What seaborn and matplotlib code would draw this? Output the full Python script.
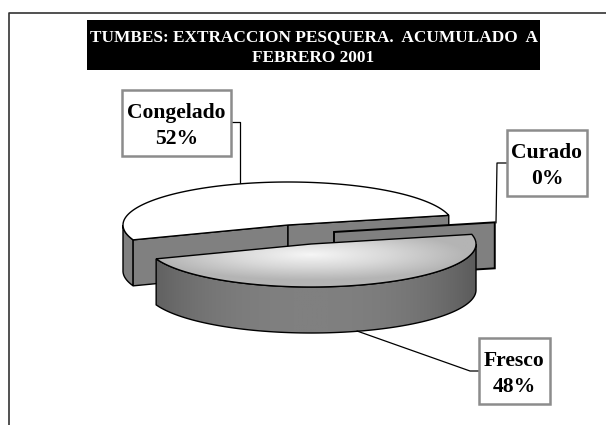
import numpy as np
import seaborn as sns
import matplotlib.pyplot as plt
from matplotlib.patches import Polygon, Rectangle

# datos del grafico
categorias = ["Congelado", "Fresco", "Curado"]
porcentajes = [52, 48, 0]
titulo = "TUMBES: EXTRACCION PESQUERA.  ACUMULADO  A\nFEBRERO 2001"

sns.set_theme(style="white")
plt.rcParams["font.family"] = ["Liberation Serif", "DejaVu Serif"]

fig = plt.figure(figsize=(6.06, 4.25), dpi=100)
ax = fig.add_axes([0, 0, 1, 1])
ax.set_xlim(0, 606)
ax.set_ylim(425, 0)
ax.axis("off")

# geometria de la torta en pixeles
rx, ry, prof = 165, 43, 46
inicio = 13
centros = {"Congelado": (288, 225), "Fresco": (311, 244), "Curado": (334, 232)}
cajas = {"Congelado": (122, 90, 231, 156), "Fresco": (479, 338, 550, 404), "Curado": (507, 130, 587, 196)}
guias = {
    "Congelado": [(231, 122), (240, 122), (240, 183)],
    "Fresco": [(357, 331), (470, 371), (479, 371)],
    "Curado": [(507, 163), (497, 163), (496, 223)],
}
gris = sns.color_palette(["#808080"])[0]
cmap_pared = sns.blend_palette(["#808080", "#5c5c5c"], as_cmap=True)
cmap_tapa = sns.blend_palette(["#f6f6f6", "#d8d8d8", "#b4b4b4"], as_cmap=True)


def arco(c, t0, t1, dy=0):
    t = np.radians(np.linspace(t0, t1, 120))
    return np.column_stack([c[0] + rx * np.cos(t), c[1] - ry * np.sin(t) + dy])


def pared_exterior(c, t0, t1):
    a, b = max(t0, 180), min(t1, 360)
    return np.vstack([arco(c, a, b), arco(c, b, a, prof)])


def pared_corte(c, t):
    p = arco(c, t, t, 0)[0]
    return [c, p, (p[0], p[1] + prof), (c[0], c[1] + prof)]


def relleno_imagen(verts, imagen, cmap, extent, z):
    im = ax.imshow(imagen, cmap=cmap, extent=extent, aspect="auto", vmin=0, vmax=1, zorder=z, interpolation="bilinear")
    im.set_clip_path(Polygon(verts, transform=ax.transData))
    ax.add_patch(Polygon(verts, closed=True, fill=False, ec="black", lw=1, zorder=z + 0.1))


angulos = np.cumsum([inicio] + [v * 3.6 for v in porcentajes])

# Congelado
c = centros["Congelado"]
t0, t1 = angulos[0], angulos[1]
ax.add_patch(Polygon(pared_exterior(c, t0, t1), fc=gris, ec="black", lw=1, zorder=2))
ax.add_patch(Polygon(pared_corte(c, t1), fc=gris, ec="black", lw=1, zorder=2))
ax.add_patch(Polygon(pared_corte(c, t0), fc=gris, ec="black", lw=1, zorder=2))
ax.add_patch(Polygon(np.vstack([[c], arco(c, t0, t1)]), fc="white", ec="black", lw=1, zorder=3))

# Curado (0%): solo se ve la pared del corte
c = centros["Curado"]
ax.add_patch(Polygon(pared_corte(c, angulos[2]), fc=gris, ec="black", lw=1.4, zorder=4))

# Fresco con degradado
c = centros["Fresco"]
t0, t1 = angulos[1], angulos[2]
x = np.linspace(-1, 1, 200)
pared = (np.abs(x) ** 2.5)[None, :]
ext = (c[0] - rx, c[0] + rx, c[1] + ry + prof, c[1] - ry)
relleno_imagen(pared_exterior(c, t0, t1), pared, cmap_pared, ext, 5)
xx, yy = np.meshgrid(np.linspace(-1, 1, 200), np.linspace(-1, 1, 100))
tapa = np.clip(np.sqrt((xx / 0.95) ** 2 + ((yy - 0.25) / 0.6) ** 2), 0, 1)
relleno_imagen(np.vstack([[c], arco(c, t0, t1)]), tapa, cmap_tapa, (c[0] - rx, c[0] + rx, c[1] + ry, c[1] - ry), 6)

ax.set_xlim(0, 606)
ax.set_ylim(425, 0)

# guias y etiquetas
for nombre, valor in zip(categorias, porcentajes):
    g = np.array(guias[nombre])
    ax.plot(g[:, 0], g[:, 1], color="black", lw=0.9, zorder=8)
    x0, y0, x1, y1 = cajas[nombre]
    ax.add_patch(Rectangle((x0, y0), x1 - x0, y1 - y0, fc="white", ec="#8c8c8c", lw=1.8, zorder=9))
    ax.text((x0 + x1) / 2, (y0 + y1) / 2 + 3, f"{nombre}\n{valor}%", ha="center", va="center",
            fontsize=15.6, fontweight="bold", color="black", linespacing=1.42, zorder=10)

# titulo
ax.add_patch(Rectangle((87, 20), 453, 50, fc="black", ec="none", zorder=9))
ax.text(313.5, 47.5, titulo, ha="center", va="center", color="white", fontsize=12.4,
        fontweight="bold", linespacing=1.45, zorder=10)

# marco
ax.plot([8.5, 8.5, 606], [425, 12.5, 12.5], color="#333333", lw=1.2, zorder=1)

fig.savefig("out.png", dpi=100, facecolor="white")
